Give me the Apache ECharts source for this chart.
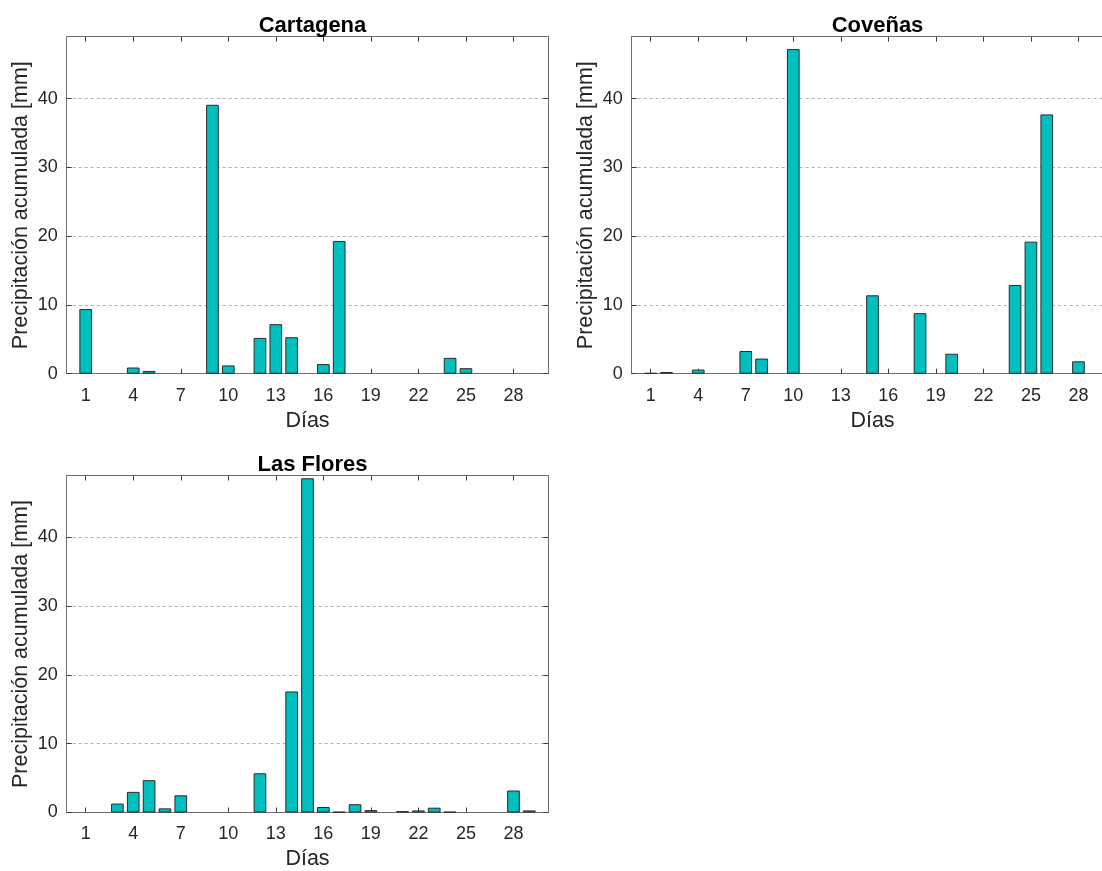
<!DOCTYPE html>
<html>
<head>
<meta charset="utf-8">
<script src="https://cdn.jsdelivr.net/npm/echarts@6/dist/echarts.min.js"></script>
<style>
  html, body { margin: 0; padding: 0; background: #ffffff; overflow: hidden; }
  /* the drawing surface is a little wider than the window: the right panel runs past the visible edge */
  #chart { width: 1130px; height: 871px; }
</style>
</head>
<body>
<div id="chart"></div>
<script>
// Daily accumulated precipitation [mm] per station, days 1..30
const days = [1, 2, 3, 4, 5, 6, 7, 8, 9, 10, 11, 12, 13, 14, 15,
              16, 17, 18, 19, 20, 21, 22, 23, 24, 25, 26, 27, 28, 29, 30];

const cartagena = [9.4, 0, 0, 0.9, 0.4, 0, 0, 0, 39.1, 1.2, 0, 5.2, 7.2, 5.3, 0,
                   1.4, 19.3, 0, 0, 0, 0, 0, 0, 2.3, 0.8, 0, 0, 0, 0, 0];

const covenas = [0.1, 0.25, 0, 0.6, 0, 0, 3.3, 2.2, 0, 47.2, 0, 0, 0, 0, 11.4,
                 0, 0, 8.8, 0, 2.9, 0, 0, 0, 12.9, 19.2, 37.7, 0, 1.8, 0, 0];

const lasFlores = [0, 0, 1.3, 3.0, 4.7, 0.6, 2.5, 0, 0, 0, 0, 5.7, 0, 17.6, 48.6,
                   0.8, 0.1, 1.2, 0.35, 0, 0.2, 0.3, 0.7, 0.1, 0, 0, 0, 3.2, 0.3, 0];

const stationNames = ['Cartagena', 'Coveñas', 'Las Flores'];
const xTickValues = [1, 4, 7, 10, 13, 16, 19, 22, 25, 28];
const yTickValues = [0, 10, 20, 30, 40];

// axis ranges
const X_MIN = -0.2, X_MAX = 30.2, Y_MAX = 49;

// panel geometry (px)
const PANEL_W = 481.6, PANEL_H = 337;
const panels = [
  { name: stationNames[0], values: cartagena, left: 66.7,  top: 36.7 },
  { name: stationNames[1], values: covenas,   left: 631.7, top: 36.7 },
  { name: stationNames[2], values: lasFlores, left: 66.7,  top: 475.5 }
];

const FONT = '"Liberation Sans", Arial, Helvetica, sans-serif';
const TEXT = '#262626';
const BOX = '#6e6e6e';
const TICK = '#3c3c3c';
const BAR_FILL = '#00bfbf';
const BAR_EDGE = '#2a2a2a';
const barWidthPx = PANEL_W * 0.8 / (X_MAX - X_MIN);

const boxLine = () => ({ show: true, onZero: false, lineStyle: { color: BOX, width: 1 } });
const tickStyle = { color: TICK, width: 1 };

const grids = [], xAxes = [], yAxes = [], series = [], titles = [];

panels.forEach((p, i) => {
  grids.push({
    left: p.left, top: p.top, width: PANEL_W, height: PANEL_H,
    show: false, containLabel: false, outerBoundsMode: 'none'
  });

  titles.push({
    text: p.name,
    left: p.left + PANEL_W / 2,
    top: p.top - 27,
    textAlign: 'center',
    textStyle: { fontFamily: FONT, fontSize: 22, fontWeight: 'bold', color: '#000000' }
  });

  // bottom day axis
  xAxes.push({
    type: 'value', gridIndex: i, position: 'bottom',
    min: X_MIN, max: X_MAX,
    name: 'Días', nameLocation: 'middle', nameGap: 36,
    nameTextStyle: { fontFamily: FONT, fontSize: 21.5, color: TEXT },
    axisLine: boxLine(),
    axisTick: { show: true, inside: true, length: 5, customValues: xTickValues, lineStyle: tickStyle },
    axisLabel: { show: true, customValues: xTickValues, margin: 13,
                 fontFamily: FONT, fontSize: 18, color: TEXT },
    splitLine: { show: false }
  });
  // top day axis: box edge and ticks only
  xAxes.push({
    type: 'value', gridIndex: i, position: 'top',
    min: X_MIN, max: X_MAX,
    axisLine: boxLine(),
    axisTick: { show: true, inside: true, length: 5, customValues: xTickValues, lineStyle: tickStyle },
    axisLabel: { show: false },
    splitLine: { show: false }
  });

  // left precipitation axis
  yAxes.push({
    type: 'value', gridIndex: i, position: 'left',
    min: 0, max: Y_MAX,
    name: 'Precipitación acumulada [mm]', nameLocation: 'middle', nameGap: 35,
    nameTextStyle: { fontFamily: FONT, fontSize: 21.5, color: TEXT },
    axisLine: boxLine(),
    axisTick: { show: true, inside: true, length: 5, customValues: yTickValues, lineStyle: tickStyle },
    axisLabel: { show: true, customValues: yTickValues, margin: 9,
                 fontFamily: FONT, fontSize: 18, color: TEXT },
    splitLine: { show: true, lineStyle: { color: '#b0b0b0', width: 1, type: [3, 3] } }
  });
  // right precipitation axis: box edge and ticks only
  yAxes.push({
    type: 'value', gridIndex: i, position: 'right',
    min: 0, max: Y_MAX,
    axisLine: boxLine(),
    axisTick: { show: true, inside: true, length: 5, customValues: yTickValues, lineStyle: tickStyle },
    axisLabel: { show: false },
    splitLine: { show: false }
  });

  series.push({
    type: 'bar',
    name: p.name,
    xAxisIndex: 2 * i,
    yAxisIndex: 2 * i,
    barWidth: barWidthPx,
    data: days.map((d, k) => [d, p.values[k]]).filter(v => v[1] > 0),
    itemStyle: { color: BAR_FILL, borderColor: BAR_EDGE, borderWidth: 1 },
    emphasis: { disabled: true },
    z: 3
  });
});

const chart = echarts.init(document.getElementById('chart'), null, { renderer: 'canvas' });
chart.setOption({
  animation: false,
  backgroundColor: '#ffffff',
  title: titles,
  grid: grids,
  xAxis: xAxes,
  yAxis: yAxes,
  series: series
});
</script>
</body>
</html>
